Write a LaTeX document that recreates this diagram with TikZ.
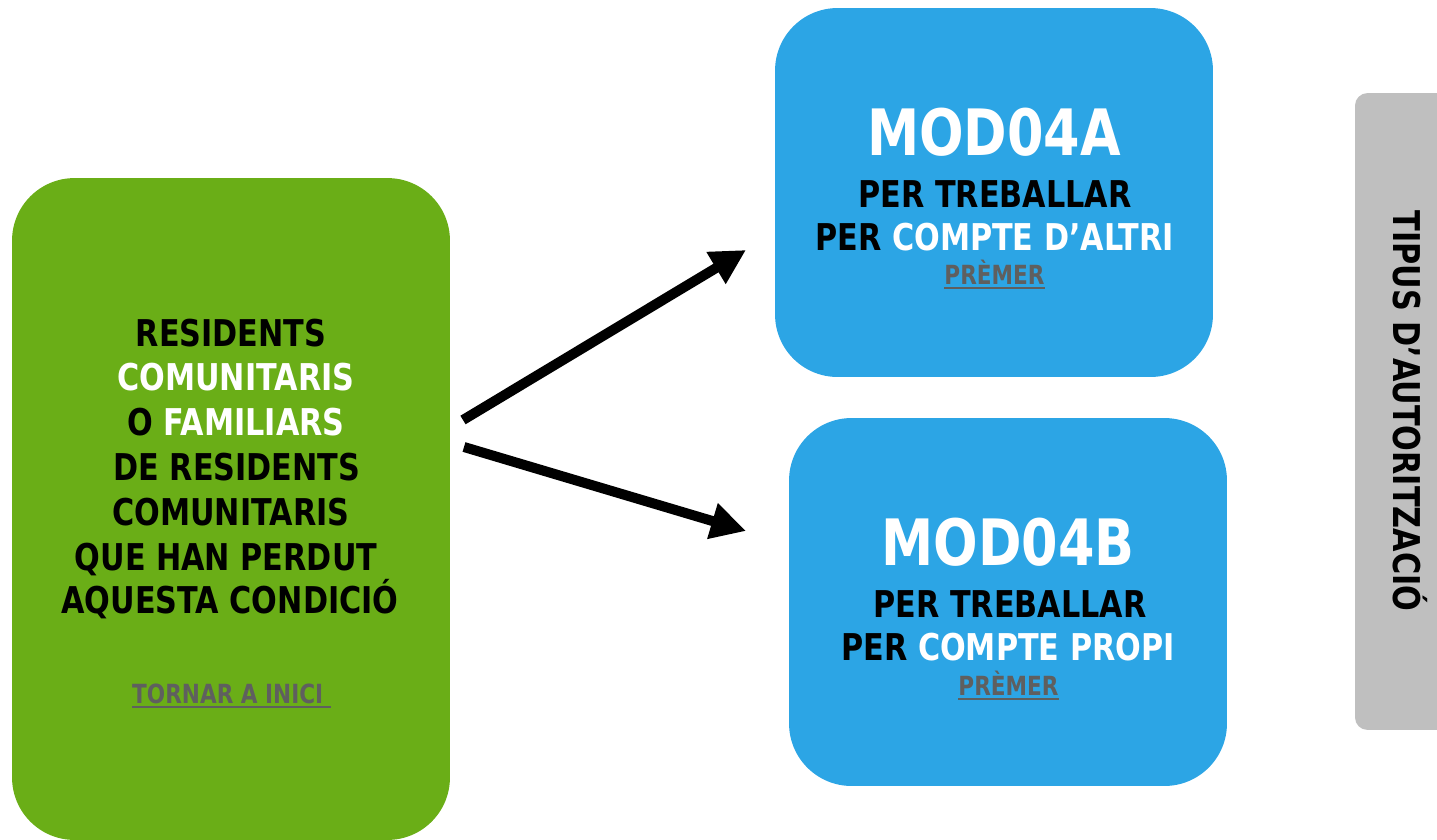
\documentclass[tikz,border=0pt]{standalone}
\usepackage{fontspec}
\setmainfont{DejaVu Sans}[FakeStretch=0.82]
\usepackage{tikz}
\usetikzlibrary{arrows.meta,positioning,calc}
\definecolor{boxgreen}{RGB}{106,174,23}
\definecolor{boxblue}{RGB}{44,165,229}
\definecolor{tabgray}{RGB}{191,191,191}
\definecolor{linkgray}{RGB}{95,95,95}
% underlined link text
\newcommand{\lnk}[1]{\setbox0\hbox{#1}\rlap{\rule[-3.1pt]{\wd0}{1.5pt}}\box0}

\begin{document}
\begin{tikzpicture}[x=0.02cm,y=-0.02cm,
        box/.style={rounded corners=1.25cm,minimum width=8.76cm,inner sep=0pt},
        body/.style={font=\fontsize{21pt}{25.4pt}\selectfont\bfseries,anchor=base,inner sep=0pt},
        title/.style={body,font=\fontsize{36.4pt}{40pt}\selectfont\bfseries,text=white},
        link/.style={body,font=\fontsize{15pt}{18pt}\selectfont\bfseries,text=linkgray},
        arr/.style={line width=0.2cm,-{Triangle[length=0.7cm,width=0.7cm]}}]
        \useasboundingbox (0,0) rectangle (1437,839);
        \clip (0,0) rectangle (1437,839);
        % draw boxes
        \node[box,fill=boxgreen,minimum height=13.24cm] (resid) at (231,509) {};
        \node[box,fill=boxblue,minimum height=7.38cm] (moda) at (994,192.5) {};
        \node[box,fill=boxblue,minimum height=7.36cm] (modb) at (1008,602) {};
        \node[box,fill=tabgray,rounded corners=0.25cm,minimum width=2.4cm,minimum height=12.74cm] (tipus) at (1415,411.5) {};
        % draw text of the left box
        \foreach \x/\y/\t [count=\i] in {231/346/RESIDENTS,236/390/{\color{white}COMUNITARIS},
                236/435/{O \color{white}FAMILIARS},237/480/DE RESIDENTS,231/525/COMUNITARIS,
                226/570/QUE HAN PERDUT,230/613/AQUESTA CONDICIÓ}
        \node[body] (res\i) at (\x,\y) {\t};
        \node[link] (tornar) at (231.5,703) {\lnk{TORNAR A INICI\ }};
        % draw text of the right boxes
        \node[title] (titlea) at (994,155) {MOD04A};
        \node[body] (treba) at (995,207) {PER TREBALLAR};
        \node[body] (comptea) at (994.5,250) {PER \textcolor{white}{COMPTE D’ALTRI}};
        \node[link] (premera) at (994.5,284) {\lnk{PRÈMER}};
        \node[title] (titleb) at (1008,565) {MOD04B};
        \node[body] (trebb) at (1010,617) {PER TREBALLAR};
        \node[body] (compteb) at (1008,660) {PER \textcolor{white}{COMPTE PROPI}};
        \node[link] (premerb) at (1008.5,695) {\lnk{PRÈMER}};
        \node[body,rotate=-90] (tipustxt) at (1393,411) {TIPUS D’AUTORITZACIÓ};
        % draw arrows
        \coordinate (up0) at (463,420);
        \coordinate (up1) at (746,250);
        \coordinate (dn0) at (464,447);
        \coordinate (dn1) at (746,531);
        \draw[arr] (up0) -- (up1);
        \draw[arr] (dn0) -- (dn1);
\end{tikzpicture}
\end{document}
